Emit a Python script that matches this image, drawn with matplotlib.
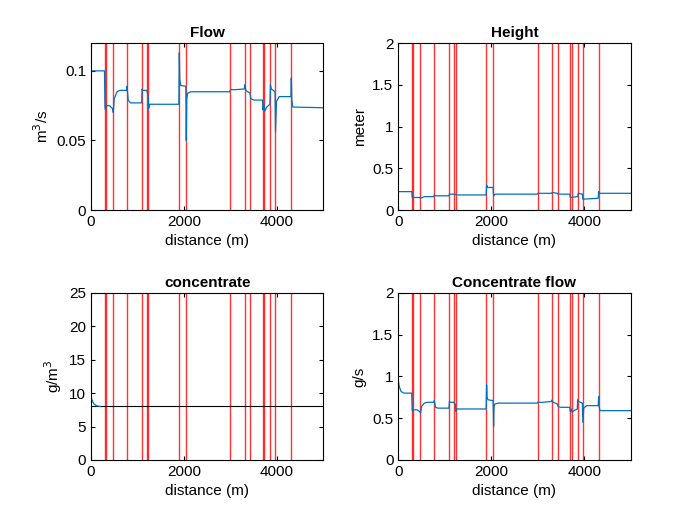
import matplotlib
matplotlib.use("Agg")
import matplotlib.pyplot as plt

plt.rcParams['font.family'] = ['Liberation Sans', 'DejaVu Sans']
plt.rcParams['font.size'] = 11

# red marker positions (m)
red_x = [295, 323, 468, 769, 1093, 1200, 1235, 1897, 2047, 2996, 3304, 3427,
         3700, 3728, 3858, 3966, 4310]

# Flow curve (m3/s)
flow_x = [0, 290, 300, 310, 330, 400, 460, 480, 500, 560, 620, 760, 775, 800, 850,
          1090, 1100, 1110, 1200, 1230, 1240, 1260, 1890, 1900, 1910, 1930, 2040, 2050,
          2060, 2080, 2150, 2990, 3000, 3100, 3300, 3310, 3330, 3420, 3440, 3500,
          3690, 3700, 3720, 3740, 3780, 3850, 3860, 3880, 3960, 3970, 3990, 4050,
          4300, 4310, 4320, 4340, 5000]
flow_y = [0.100, 0.100, 0.074, 0.072, 0.075, 0.075, 0.073, 0.070, 0.080, 0.085, 0.086,
          0.086, 0.089, 0.079, 0.077, 0.077, 0.087, 0.086, 0.086, 0.082, 0.073, 0.076,
          0.076, 0.113, 0.094, 0.0895, 0.089, 0.050, 0.080, 0.084, 0.085, 0.085, 0.0865,
          0.0865, 0.087, 0.090, 0.086, 0.084, 0.080, 0.079, 0.079, 0.072, 0.076, 0.071,
          0.074, 0.076, 0.090, 0.087, 0.085, 0.056, 0.078, 0.0815, 0.0815, 0.095, 0.080,
          0.074, 0.0735]

# Height curve (meter)
h_x = [0, 290, 300, 460, 480, 560, 760, 775, 800, 1090, 1100, 1230, 1240, 1890, 1900,
       1920, 2040, 2050, 2080, 2990, 3000, 3300, 3310, 3420, 3440, 3690, 3700, 3860,
       3870, 3960, 3970, 4300, 4310, 4330, 5000]
h_y = [0.22, 0.22, 0.15, 0.15, 0.14, 0.16, 0.16, 0.18, 0.17, 0.17, 0.19, 0.19, 0.18,
       0.18, 0.30, 0.27, 0.27, 0.17, 0.19, 0.19, 0.20, 0.20, 0.21, 0.20, 0.19, 0.19,
       0.15, 0.16, 0.20, 0.19, 0.13, 0.14, 0.22, 0.20, 0.20]

# Concentrate (g/m3): only the start rises above the flat 8 level
c_x = [0, 20, 60, 120, 200]
c_y = [9.6, 9.0, 8.4, 8.1, 8.0]
c_level = 8

# Concentrate flow (g/s)
cf_x = [0, 20, 60, 120, 290, 300, 310, 330, 400, 460, 480, 500, 560, 620, 760, 775,
        800, 850, 1090, 1100, 1110, 1200, 1230, 1240, 1260, 1890, 1900, 1910, 1930,
        2040, 2050, 2060, 2080, 2150, 2990, 3000, 3100, 3300, 3310, 3330, 3420, 3440,
        3500, 3690, 3700, 3720, 3740, 3780, 3850, 3860, 3880, 3960, 3970, 3990, 4050,
        4300, 4310, 4320, 4340, 5000]
cf_y = [0.95, 0.88, 0.82, 0.80, 0.80, 0.59, 0.58, 0.60, 0.60, 0.58, 0.56, 0.64, 0.68,
        0.69, 0.69, 0.71, 0.63, 0.62, 0.62, 0.70, 0.69, 0.69, 0.66, 0.58, 0.61, 0.61,
        0.90, 0.75, 0.72, 0.71, 0.40, 0.64, 0.67, 0.68, 0.68, 0.69, 0.69, 0.70, 0.72,
        0.69, 0.67, 0.64, 0.63, 0.63, 0.58, 0.61, 0.57, 0.59, 0.61, 0.72, 0.70, 0.68,
        0.45, 0.62, 0.65, 0.65, 0.76, 0.64, 0.59, 0.59]

panels = [
    ("Flow", flow_x, flow_y, (0, 0.12), [0, 0.05, 0.1], "m$^3$/s"),
    ("Height", h_x, h_y, (0, 2), [0, 0.5, 1, 1.5, 2], "meter"),
    ("concentrate", c_x, c_y, (0, 25), [0, 5, 10, 15, 20, 25], "g/m$^3$"),
    ("Concentrate flow", cf_x, cf_y, (0, 2), [0, 0.5, 1, 1.5, 2], "g/s"),
]
pos = [[0.13, 0.6, 0.332, 0.318], [0.569, 0.6, 0.332, 0.318],
       [0.13, 0.124, 0.332, 0.318], [0.569, 0.124, 0.332, 0.318]]

fig = plt.figure(figsize=(7, 5.25), dpi=100)
for (title, xs, ys, ylim, yt, ylab), p in zip(panels, pos):
    ax = fig.add_axes(p)
    for xr in red_x:
        ax.axvline(xr, color='red', lw=1, alpha=0.8)
    if title == "concentrate":
        ax.axhline(c_level, color='black', lw=0.8)
    ax.plot(xs, ys, color='#0072BD', lw=0.9)
    ax.set_xlim(0, 5000)
    ax.set_ylim(*ylim)
    ax.set_xticks([0, 2000, 4000])
    ax.set_yticks(yt)
    ax.set_yticklabels([f"{v:g}" for v in yt])
    ax.set_title(title, fontweight='bold', fontsize=11, pad=4)
    ax.set_xlabel("distance (m)")
    ax.set_ylabel(ylab)
    ax.tick_params(direction='in', top=True, right=True, length=3)

fig.savefig("out.png")
